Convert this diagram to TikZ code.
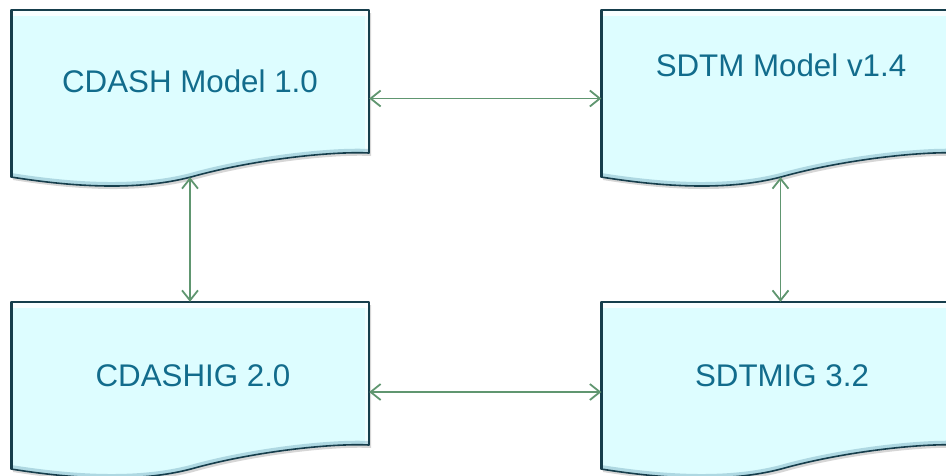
\documentclass[tikz,border=0pt]{standalone}
\usepackage{fontspec}
\setmainfont{Liberation Sans}
\usetikzlibrary{arrows.meta}
\definecolor{boxfill}{RGB}{221,253,255}
\definecolor{boxedge}{RGB}{22,62,76}
\definecolor{txtcol}{RGB}{18,108,140}
\definecolor{arrcol}{RGB}{96,150,112}
\tikzset{
  docarea/.style={draw=none, fill=none, inner sep=0pt, minimum width=358pt},
  label/.style={font=\fontsize{31.3}{37}\selectfont, text=txtcol, inner sep=0pt},
  conn/.style={draw=arrcol, line width=1.8pt, {Straight Barb[length=10pt,width=16pt]}-{Straight Barb[length=10pt,width=16pt]}},
  docline/.style={draw=boxedge, line width=1.6pt, line join=round},
}
\newcommand{\docpath}[2]{%
  (#1,#2) -- ++(358,0) -- ++(0,143)
  .. controls ++(-38,-2) and ++(60,-17) .. ++(-178,24)
  .. controls ++(-50,13) and ++(69,11) .. ++(-180,0) -- cycle}
\newcommand{\docbox}[2]{%
  \fill[black!45, opacity=0.35] \docpath{#1+2}{#2+3};
  \fill[boxfill] \docpath{#1}{#2};
  \begin{scope}
    \clip \docpath{#1}{#2};
    \draw[white, line width=6pt, opacity=0.8] (#1,#2+3) -- ++(358,0);
    \draw[white, line width=4pt, opacity=0.6] (#1+356,#2) -- ++(0,150);
    \draw[black!40!cyan, line width=8pt, opacity=0.3] (#1+358,#2+143)
      .. controls ++(-38,-2) and ++(60,-17) .. ++(-178,24)
      .. controls ++(-50,13) and ++(69,11) .. ++(-180,0);
  \end{scope}
  \draw[docline] \docpath{#1}{#2};
  \draw[boxedge, line width=3.2pt] (#1+0.8,#2) -- ++(0,167);
}
\begin{document}
\begin{tikzpicture}[x=1pt,y=-1pt]
\useasboundingbox (0,0) rectangle (946,475);
\clip (0,0) rectangle (946,475);
\fill[white] (0,0) rectangle (946,475);

\docbox{11}{10}
\docbox{601}{10}
\docbox{11}{302}
\docbox{601}{302}

\node[docarea, minimum height=167pt] (cdash) at (190,93.5) {};
\node[docarea, minimum height=167pt] (sdtm) at (780.5,93.5) {};
\node[docarea, minimum height=165pt] (cdashig) at (190,384.5) {};
\node[docarea, minimum height=165pt] (sdtmig) at (780.5,384.5) {};

\node[label] (t1) at (190,81) {CDASH Model 1.0};
\node[label] (t2) at (781,65) {SDTM Model v1.4};
\node[label] (t3) at (193,376) {CDASHIG 2.0};
\node[label] (t4) at (782,376) {SDTMIG 3.2};

\draw[conn] ([yshift=-5pt]cdash.east) -- ([yshift=-5pt]sdtm.west);
\draw[conn] ([yshift=-7.5pt]cdashig.east) -- ([yshift=-7.5pt]sdtmig.west);
\draw[conn] (cdash.south) -- (cdashig.north);
\draw[conn] (sdtm.south) -- (sdtmig.north);
\end{tikzpicture}
\end{document}
